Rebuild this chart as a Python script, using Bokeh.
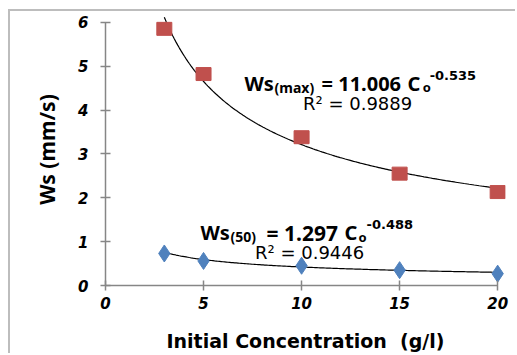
import numpy as np
from bokeh.plotting import figure
from bokeh.models import Range1d, Label, ColumnDataSource
from bokeh.embed import file_html
from bokeh.resources import INLINE

# ---- data ----
conc = [3, 5, 10, 15, 20]
ws_max = [5.85, 4.82, 3.38, 2.55, 2.13]
ws_50 = [0.73, 0.56, 0.45, 0.35, 0.27]
x_ticks = [0, 5, 10, 15, 20]
y_ticks = [0, 1, 2, 3, 4, 5, 6]
# fitted power trendlines shown on the chart
fit_max = (11.006, -0.535)
fit_50 = (1.297, -0.488)

RED = "#C0504D"
BLUE = "#4F81BD"
AXIS = "#868686"

OFF_X, OFF_Y = 10, 11  # chart area offset (margin + border)

p = figure(width=517 - OFF_X, height=355 - OFF_Y, output_backend="svg", toolbar_location=None,
           x_range=Range1d(0, 20.4), y_range=Range1d(0, 6.2),
           min_border_left=105 - OFF_X, min_border_right=12,
           min_border_top=12 - OFF_Y + 1, min_border_bottom=70)
p.margin = (9, 0, 0, 8)
p.styles = {"border-left": "2px solid #BDBDBD", "border-top": "2px solid #BDBDBD"}
p.background_fill_color = "white"
p.border_fill_color = "white"
p.outline_line_color = None
p.xgrid.visible = False
p.ygrid.visible = False

for ax in (p.xaxis[0], p.yaxis[0]):
    ax.axis_line_color = AXIS
    ax.axis_line_width = 1.5
    ax.major_tick_line_color = AXIS
    ax.major_tick_line_width = 1.5
    ax.minor_tick_line_color = None
    ax.major_tick_in = 5
    ax.major_tick_out = 5
    ax.major_label_text_font = "DejaVu Sans"
    ax.major_label_text_font_style = "bold italic"
    ax.major_label_text_font_size = "15px"
    ax.major_label_text_color = "black"
    ax.axis_label_text_color = "black"

p.xaxis.ticker = x_ticks
p.yaxis.ticker = y_ticks
p.xaxis.bounds = (0, 20)
p.yaxis.bounds = (0, 6)
p.xaxis.major_label_standoff = 6
p.yaxis.major_label_standoff = 12

p.xaxis.axis_label = "Initial Concentration \u00a0(g/l)"
p.xaxis.axis_label_text_font = "DejaVu Sans"
p.xaxis.axis_label_text_font_style = "bold"
p.xaxis.axis_label_text_font_size = "19px"
p.xaxis.axis_label_standoff = 18

p.yaxis.axis_label = "Ws (mm/s)"
p.yaxis.axis_label_text_font = "Noto Sans"
p.yaxis.axis_label_text_font_style = "bold"
p.yaxis.axis_label_text_font_size = "21px"
p.yaxis.axis_label_standoff = 14

# trendlines
xs = np.linspace(3, 20, 200)
p.line(xs, fit_max[0] * xs ** fit_max[1], line_color="black", line_width=1.2)
p.line(xs, fit_50[0] * xs ** fit_50[1], line_color="black", line_width=1.2)

src = ColumnDataSource(dict(x=conc, ymax=ws_max, y50=ws_50))
p.rect("x", "ymax", width=15, height=13, width_units="screen", height_units="screen",
       source=src, fill_color=RED, line_color=RED)
p.scatter("x", "y50", marker="diamond", size=17, source=src, fill_color=BLUE, line_color=BLUE)

# pixel -> data helpers (page pixels of the reference)
def dx(px):
    return (px - 105) / 19.6

def dy(py):
    return (285 - py) / 44.0

F = "Noto Sans"

def lab(px, py, t, size, style="bold", align="left", font=F):
    p.add_layout(Label(x=dx(px), y=dy(py), text=t, text_font=font, text_font_size=size,
                       text_font_style=style, text_align=align, text_baseline="alphabetic",
                       text_color="black"))

# upper equation
lab(244, 82, "Ws", "20px")
lab(274, 86, "(max)", "14px")
lab(321, 82, "= 11.006", "20px")
lab(407, 82, "C", "20px")
lab(422, 86, "o", "13px")
lab(429, 74, "-0.535", "13px", font="DejaVu Sans")
lab(357, 102, "R² = 0.9889", "18px", "normal", "center", font="DejaVu Sans")

# lower equation
lab(200, 232, "Ws", "20px")
lab(230, 236, "(50)", "14px")
lab(266, 232, "= 1.297", "21px")
lab(344, 232, "C", "20px")
lab(358, 236, "o", "13px")
lab(366, 224, "-0.488", "13px", font="DejaVu Sans")
lab(309, 252, "R² = 0.9446", "18px", "normal", "center", font="DejaVu Sans")

open("out.html", "w").write(file_html(p, INLINE))
